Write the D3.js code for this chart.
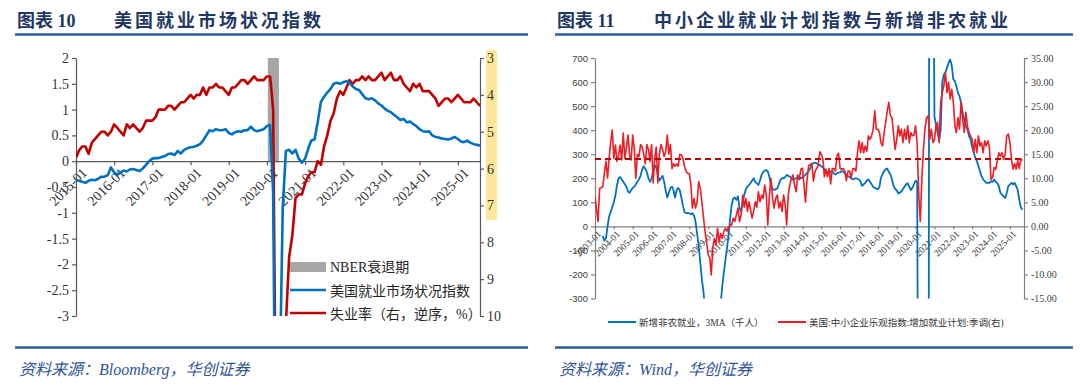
<!DOCTYPE html>
<html>
<head>
<meta charset="utf-8">
<script src="https://cdn.jsdelivr.net/npm/d3@7"></script>
<style>
  body { margin: 0; background: #fff; }
  svg { display: block; }
</style>
</head>
<body>
<svg id="c" width="1080" height="388"></svg>
<script>
// ---------- left chart data (monthly, from 2015-01) ----------
var lmciStart = "2015-01";
var lmci = [
  -0.37,-0.38,-0.40,-0.42,-0.38,-0.36,-0.37,-0.34,-0.30,-0.30,-0.27,-0.12,
  -0.22,-0.26,-0.22,-0.18,-0.20,-0.16,-0.15,-0.17,-0.19,-0.14,-0.07,0.00,
  0.05,0.06,0.06,0.08,0.10,0.14,0.15,0.12,0.20,0.15,0.22,0.25,
  0.27,0.28,0.30,0.33,0.40,0.50,0.60,0.58,0.62,0.60,0.60,0.62,
  0.55,0.52,0.56,0.58,0.57,0.60,0.60,0.67,0.60,0.58,0.60,0.62,
  0.68,0.70,-0.60,-8.00,-4.50,-0.90,0.20,0.22,0.15,0.22,0.05,-0.03,
  0.05,0.25,0.40,0.42,0.75,1.15,1.25,1.33,1.40,1.50,1.52,1.50,
  1.53,1.55,1.52,1.45,1.40,1.38,1.30,1.22,1.20,1.22,1.18,1.12,
  1.08,1.02,0.98,0.95,0.90,0.85,0.80,0.82,0.75,0.77,0.72,0.68,
  0.62,0.58,0.57,0.58,0.50,0.47,0.46,0.44,0.43,0.42,0.44,0.47,
  0.43,0.38,0.37,0.40,0.36,0.33,0.32,0.30
];
var unemp = [
  5.7,5.5,5.4,5.4,5.6,5.3,5.2,5.1,5.0,5.0,5.1,5.0,
  4.8,4.9,5.0,5.1,4.8,4.9,4.8,4.9,5.0,4.9,4.7,4.7,
  4.7,4.6,4.4,4.4,4.4,4.3,4.3,4.4,4.3,4.2,4.2,4.1,
  4.0,4.1,4.0,4.0,3.8,4.0,3.8,3.8,3.7,3.8,3.8,3.9,
  4.0,3.8,3.8,3.7,3.6,3.6,3.7,3.6,3.5,3.6,3.6,3.6,
  3.5,3.5,4.4,14.8,13.2,11.0,10.2,8.4,7.8,6.8,6.7,6.7,
  6.4,6.2,6.1,6.1,5.8,5.9,5.4,5.1,4.7,4.5,4.1,3.9,
  4.0,3.8,3.6,3.7,3.6,3.6,3.5,3.6,3.5,3.6,3.6,3.5,
  3.4,3.6,3.5,3.4,3.6,3.6,3.5,3.7,3.8,3.9,3.7,3.8,
  3.7,3.9,3.9,3.9,4.0,4.1,4.3,4.2,4.1,4.1,4.2,4.1,
  4.0,4.1,4.2,4.2,4.2,4.1,4.2,4.3
];
var nber = ["2020-01-10", "2020-04-25"];
var lmciTicks = [-3, -2.5, -2, -1.5, -1, -0.5, 0, 0.5, 1, 1.5, 2];
var unempTicks = [3, 4, 5, 6, 7, 8, 9, 10];
var leftLegend = ["NBER衰退期", "美国就业市场状况指数", "失业率（右，逆序，%）"];

// ---------- right chart data (monthly, from 2003-01) ----------
var nfpStart = "2003-01";
var nfp3ma = [
  null,null,null,null,null,-40,-60,-50,0,40,60,80,
  100,130,170,200,205,195,185,175,165,145,140,150,
  160,165,175,185,195,210,235,250,240,225,200,185,
  200,230,255,245,215,190,200,210,185,150,120,140,
  160,165,150,120,150,160,150,120,85,60,55,55,
  55,50,55,45,20,-30,-80,-150,-220,-270,-350,-450,
  -600,-700,-750,-700,-600,-500,-450,-380,-320,-250,-190,-140,
  -90,-35,30,90,115,120,110,125,75,60,100,130,
  155,165,172,180,190,200,185,179,172,190,214,225,
  232,234,228,205,172,155,151,155,158,175,193,200,
  200,205,214,210,207,200,193,198,200,205,195,202,
  202,209,215,222,230,241,258,262,265,262,258,255,
  250,245,237,230,225,223,228,230,220,216,220,223,
  225,230,228,220,215,209,205,200,195,198,200,198,
  195,185,168,175,181,190,195,185,175,165,160,157,
  154,165,202,216,230,237,241,225,216,195,168,155,
  150,137,140,145,155,165,175,179,165,151,160,175,
  190,185,-1500,-6000,-6000,-5000,-4000,-3500,-2500,3000,2000,1400,
  456,420,390,360,400,600,630,640,660,680,694,670,
  611,604,583,555,541,513,472,444,417,403,375,361,
  330,306,286,272,251,230,209,195,188,181,181,181,
  188,185,195,185,180,167,139,132,125,118,139,167,
  174,181,174,181,167,153,110,80,69
];
var nfibHire = [
  6.2,3.5,1.0,7.9,8.0,8.3,11.0,13.5,10.0,14.1,17.6,20.0,
  14.1,16.9,13.5,14.8,16.9,13.8,19.4,14.1,16.5,19.0,14.8,13.8,
  19.0,15.9,10.0,15.0,14.5,17.0,16.5,15.0,13.0,17.0,16.0,13.5,
  17.0,9.0,14.0,16.5,9.0,15.0,17.0,16.0,14.5,15.5,19.0,15.0,
  17.0,12.0,13.0,12.5,13.0,12.5,15.0,14.8,14.1,12.5,11.4,11.0,
  11.0,8.6,3.8,5.8,3.8,5.1,9.3,7.9,5.1,2.0,-1.1,-3.2,
  -5.9,-6.6,-10.1,-4.5,-2.5,-3.9,-0.4,-3.2,-1.5,-2.5,-1.0,-0.4,
  -1.0,-0.4,0.3,0.3,1.7,1.0,2.4,3.8,1.0,2.4,6.5,4.0,
  5.8,3.1,5.1,3.5,1.7,3.1,5.1,4.0,7.2,5.1,6.5,5.8,
  8.6,6.5,0.3,6.5,10.0,5.8,3.8,5.8,6.5,3.8,5.1,3.1,
  6.5,4.5,0.3,6.5,8.6,10.0,10.7,8.6,7.2,10.7,9.8,11.9,
  12.1,8.4,5.0,9.8,12.6,12.8,13.1,9.4,11.4,12.0,12.6,15.5,
  15.0,14.0,10.3,11.9,10.3,12.0,8.8,12.0,12.0,11.5,14.7,15.2,
  12.0,11.9,12.0,11.5,9.5,11.5,11.5,10.0,12.0,12.0,11.5,15.3,
  17.8,15.3,17.4,15.3,16.7,15.6,18.8,18.1,18.8,20.2,24.0,20.2,
  20.2,19.5,17.4,16.7,19.5,21.6,24.0,25.8,23.0,22.6,19.2,16.0,
  18.1,20.9,18.8,20.2,17.4,20.2,18.1,20.9,17.4,19.5,18.8,19.0,
  20.9,17.0,7.0,1.0,9.8,16.0,20.2,22.6,23.0,18.1,20.2,17.4,
  18.1,20.9,21.6,17.4,25.8,27.8,29.2,32.0,27.8,30.0,26.5,28.5,
  25.8,20.9,19.5,22.6,20.2,25.8,22.3,19.5,23.7,20.9,19.5,18.8,
  18.1,15.3,18.1,15.3,18.8,16.7,17.4,15.3,17.8,16.7,17.8,16.5,
  9.8,10.2,12.2,11.9,13.6,15.3,14.6,15.3,13.9,15.0,18.8,19.2,
  17.4,14.0,11.9,13.0,11.9,13.7,12.0,14.0,13.7
];
var hireRef = 14;
var nfpTicks = [-300, -200, -100, 0, 100, 200, 300, 400, 500, 600, 700];
var hireTicks = [-15, -10, -5, 0, 5, 10, 15, 20, 25, 30, 35];
var rightLegend = ["新增非农就业，3MA（千人）", "美国:中小企业乐观指数:增加就业计划:季调(右)"];

// ---------- helpers ----------
var svg = d3.select("#c");
var parseM = d3.utcParse("%Y-%m");
var parseD = d3.utcParse("%Y-%m-%d");
var SERIF = "'Liberation Serif','Noto Sans CJK SC',serif";
var SANS = "'Liberation Sans','Noto Sans CJK SC',sans-serif";

function monthly(start, vals) {
  var d0 = parseM(start);
  return vals.map(function (v, i) { return { date: d3.utcMonth.offset(d0, i), v: v }; });
}

function styleAxis(g, col, txt, font, size) {
  g.select(".domain").attr("stroke", col).attr("stroke-width", 1.2);
  g.selectAll(".tick line").attr("stroke", col).attr("stroke-width", 1.2);
  g.selectAll(".tick text").attr("fill", txt).style("font-family", font).style("font-size", size + "px");
}

// titles, rules and sources
function header(x, x2, num, title, source) {
  svg.append("text").attr("x", x).attr("y", 27)
    .style("font-family", SERIF).style("font-weight", "bold").style("font-size", "18px")
    .attr("fill", "#1f3864").text("图表 " + num);
  svg.append("text").attr("x", x + 97).attr("y", 27)
    .style("font-family", SERIF).style("font-weight", "bold").style("font-size", "18px")
    .style("letter-spacing", "3px").attr("fill", "#1f3864").text(title);
  svg.append("line").attr("x1", x - 2).attr("x2", x2).attr("y1", 34.5).attr("y2", 34.5)
    .attr("stroke", "#2e5c99").attr("stroke-width", 2.5);
  svg.append("line").attr("x1", x - 2).attr("x2", x2).attr("y1", 347.5).attr("y2", 347.5)
    .attr("stroke", "#2e5c99").attr("stroke-width", 2.5);
  svg.append("text").attr("x", x + 2).attr("y", 375)
    .style("font-family", SERIF).style("font-style", "italic").style("font-size", "16px")
    .attr("fill", "#2f5597").text(source);
}
header(17, 528, "10", "美国就业市场状况指数", "资料来源：Bloomberg，华创证券");
header(557, 1073, "11", "中小企业就业计划指数与新增非农就业", "资料来源：Wind，华创证券");

// ================= left chart =================
var lData = monthly(lmciStart, lmci);
var uData = monthly(lmciStart, unemp);
var xL = d3.scaleUtc().domain([parseM("2015-01"), parseM("2025-08")]).range([76, 480]);
var yL = d3.scaleLinear().domain([-3, 2]).range([316, 58]);
var yU = d3.scaleLinear().domain([3, 10]).range([58, 316]);

svg.append("clipPath").attr("id", "clipL").append("rect")
  .attr("x", 76).attr("y", 58).attr("width", 404).attr("height", 258);

// recession band
svg.append("rect")
  .attr("x", xL(parseD(nber[0]))).attr("y", yL(2))
  .attr("width", xL(parseD(nber[1])) - xL(parseD(nber[0])))
  .attr("height", yL(0) - yL(2))
  .attr("fill", "#a6a6a6");

// yellow mark behind right labels
svg.append("rect").attr("x", 486).attr("y", 50).attr("width", 11).attr("height", 170)
  .attr("rx", 2).attr("fill", "#ffe699");

var gxL = svg.append("g").attr("transform", "translate(0," + yL(0) + ")")
  .call(d3.axisBottom(xL).ticks(d3.utcYear.every(1)).tickSize(4).tickSizeOuter(0)
    .tickFormat(d3.utcFormat("%Y-%m")));
styleAxis(gxL, "#595959", "#333", SERIF, 14);
gxL.selectAll(".tick text").attr("x", 0).attr("y", 0).attr("dy", "0.35em")
  .attr("text-anchor", "end").attr("transform", "translate(8,9) rotate(-45)");

var gyL = svg.append("g").attr("transform", "translate(76,0)")
  .call(d3.axisLeft(yL).tickValues(lmciTicks).tickSize(4).tickSizeOuter(0)
    .tickFormat(function (d) { return String(d); }));
styleAxis(gyL, "#595959", "#333", SERIF, 14);

var gyU = svg.append("g").attr("transform", "translate(480,0)")
  .call(d3.axisRight(yU).tickValues(unempTicks).tickSize(4).tickSizeOuter(0)
    .tickFormat(function (d) { return String(d); }));
styleAxis(gyU, "#595959", "#333", SERIF, 14);

var plotL = svg.append("g").attr("clip-path", "url(#clipL)");
plotL.append("path").datum(uData)
  .attr("fill", "none").attr("stroke", "#c00000").attr("stroke-width", 2.6).attr("stroke-linejoin", "round")
  .attr("d", d3.line().x(function (d) { return xL(d.date); }).y(function (d) { return yU(d.v); }));
plotL.append("path").datum(lData)
  .attr("fill", "none").attr("stroke", "#0070c0").attr("stroke-width", 2.6).attr("stroke-linejoin", "round")
  .attr("d", d3.line().x(function (d) { return xL(d.date); }).y(function (d) { return yL(d.v); }));

// left legend
var legL = svg.append("g").attr("transform", "translate(290,0)");
legL.append("rect").attr("x", 0).attr("y", 262).attr("width", 36).attr("height", 10).attr("fill", "#a6a6a6");
legL.append("line").attr("x1", 0).attr("x2", 36).attr("y1", 290).attr("y2", 290)
  .attr("stroke", "#0070c0").attr("stroke-width", 2.6);
legL.append("line").attr("x1", 0).attr("x2", 36).attr("y1", 313).attr("y2", 313)
  .attr("stroke", "#c00000").attr("stroke-width", 2.6);
legL.selectAll("text.lg").data(leftLegend).enter().append("text")
  .attr("x", 40).attr("y", function (d, i) { return 272 + i * 23.5; })
  .style("font-family", SERIF).style("font-size", "14px")
  .attr("fill", "#262626")
  .text(function (d) { return d; });

// ================= right chart =================
var nData = monthly(nfpStart, nfp3ma).filter(function (d) { return d.v !== null; });
var hData = monthly(nfpStart, nfibHire);
var xR = d3.scaleUtc().domain([parseM("2003-01"), parseM("2025-10")]).range([595, 1024]);
var yN = d3.scaleLinear().domain([-300, 700]).range([298.5, 58]);
var yH = d3.scaleLinear().domain([-15, 35]).range([298.5, 58]);

svg.append("clipPath").attr("id", "clipR").append("rect")
  .attr("x", 595).attr("y", 58).attr("width", 429).attr("height", 240.5);

var gxR = svg.append("g").attr("transform", "translate(0," + yN(0) + ")")
  .call(d3.axisBottom(xR).ticks(d3.utcYear.every(1)).tickSize(3).tickSizeOuter(0)
    .tickFormat(d3.utcFormat("%Y-%m")));
styleAxis(gxR, "#808080", "#333", SERIF, 9.5);
gxR.selectAll(".tick text").attr("x", 0).attr("y", 0).attr("dy", "0.35em")
  .attr("text-anchor", "end").attr("transform", "translate(4,6) rotate(-45)");

var gyN = svg.append("g").attr("transform", "translate(595,0)")
  .call(d3.axisLeft(yN).tickValues(nfpTicks).tickSize(4).tickSizeOuter(0)
    .tickFormat(function (d) { return String(d); }));
styleAxis(gyN, "#808080", "#404040", SANS, 9.5);

var gyH = svg.append("g").attr("transform", "translate(1024,0)")
  .call(d3.axisRight(yH).tickValues(hireTicks).tickSize(4).tickSizeOuter(0)
    .tickFormat(function (d) { return d.toFixed(2); }));
styleAxis(gyH, "#808080", "#404040", SERIF, 10);

var plotR = svg.append("g").attr("clip-path", "url(#clipR)");
plotR.append("path").datum(nData)
  .attr("fill", "none").attr("stroke", "#0070c0").attr("stroke-width", 1.8).attr("stroke-linejoin", "round")
  .attr("d", d3.line().x(function (d) { return xR(d.date); }).y(function (d) { return yN(d.v); }));
plotR.append("path").datum(hData)
  .attr("fill", "none").attr("stroke", "#ee1c25").attr("stroke-width", 1.6).attr("stroke-linejoin", "round")
  .attr("d", d3.line().x(function (d) { return xR(d.date); }).y(function (d) { return yH(d.v); }));

// reference dashed line
svg.append("line").attr("x1", 595).attr("x2", 1024).attr("y1", yH(hireRef)).attr("y2", yH(hireRef))
  .attr("stroke", "#c00000").attr("stroke-width", 2).attr("stroke-dasharray", "6,4");

// right legend
var legR = svg.append("g");
legR.append("line").attr("x1", 608).attr("x2", 636).attr("y1", 322).attr("y2", 322)
  .attr("stroke", "#0070c0").attr("stroke-width", 2);
legR.append("line").attr("x1", 778).attr("x2", 806).attr("y1", 322).attr("y2", 322)
  .attr("stroke", "#ee1c25").attr("stroke-width", 2);
legR.selectAll("text.lg").data(rightLegend).enter().append("text")
  .attr("x", function (d, i) { return i === 0 ? 639 : 809; }).attr("y", 325.5)
  .style("font-family", SERIF).style("font-size", "9.5px").attr("fill", "#333")
  .text(function (d) { return d; });
</script>
</body>
</html>
